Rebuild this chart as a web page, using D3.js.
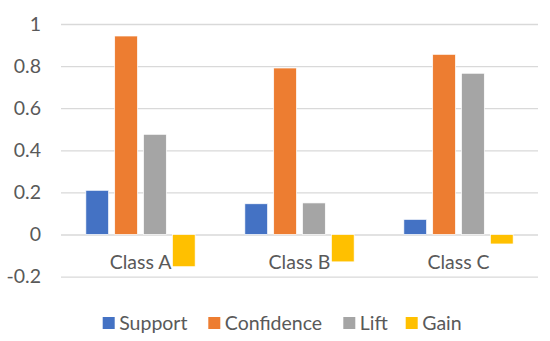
<!DOCTYPE html>
<html>
<head>
<meta charset="utf-8">
<script src="https://cdn.jsdelivr.net/npm/d3@7"></script>
<style>
  body { margin: 0; background: #fff; }
  svg { display: block; }
  text { font-family: Lato, "Open Sans", sans-serif; fill: #595959; }
</style>
</head>
<body>
<svg id="chart" width="550" height="341"></svg>
<script>
const classes = ["Class A", "Class B", "Class C"];
const seriesNames = ["Support", "Confidence", "Lift", "Gain"];
const colors = ["#4472C4", "#ED7D31", "#A5A5A5", "#FFC000"];

const support = [0.21, 0.146, 0.072];
const confidence = [0.943, 0.791, 0.856];
const lift = [0.476, 0.15, 0.766];
const gain = [-0.153, -0.13, -0.045];

const yTicks = [-0.2, 0, 0.2, 0.4, 0.6, 0.8, 1];

const values = [support, confidence, lift, gain];

const plot_left = 61;
const plot_right = 538;
const plot_top = 24;
const plot_bottom = 276.6;
const font_size = 19.5;

const svg = d3.select("#chart");

const y = d3.scaleLinear()
    .domain([-0.2, 1])
    .range([plot_bottom, plot_top]);

const x0 = d3.scaleBand()
    .domain(classes)
    .range([plot_left, plot_right])
    .paddingInner(0.3125)
    .paddingOuter(0.15625);

const x1 = d3.scaleBand()
    .domain(seriesNames)
    .range([0, x0.bandwidth()])
    .paddingInner(0.21);

// gridlines + y labels
const yAxis = svg.append("g")
    .attr("transform", "translate(" + plot_left + ",0)")
    .call(d3.axisLeft(y)
        .tickValues(yTicks)
        .tickSize(-(plot_right - plot_left))
        .tickPadding(20)
        .tickFormat(d => String(+d.toFixed(1))));

yAxis.select(".domain").remove();
yAxis.selectAll(".tick line")
    .attr("stroke", "#D9D9D9")
    .attr("stroke-width", 1.3);
yAxis.selectAll(".tick text")
    .style("font-size", font_size + "px")
    .style("font-family", "Lato, 'Open Sans', sans-serif")
    .attr("fill", "#595959");

// bars
const groups = svg.append("g")
    .selectAll("g")
    .data(classes)
    .join("g")
    .attr("transform", d => "translate(" + x0(d) + ",0)");

groups.selectAll("rect")
    .data((d, i) => seriesNames.map((s, j) => ({ name: s, val: values[j][i], color: colors[j] })))
    .join("rect")
    .attr("x", d => x1(d.name))
    .attr("width", x1.bandwidth())
    .attr("y", d => y(Math.max(0, d.val)))
    .attr("height", d => Math.abs(y(d.val) - y(0)))
    .attr("fill", d => d.color)
    .attr("stroke", "#fff")
    .attr("stroke-width", 0.7);

// category labels
svg.append("g")
    .selectAll("text")
    .data(classes)
    .join("text")
    .attr("x", d => x0(d) + x0.bandwidth() / 2)
    .attr("y", y(0) + 34.5)
    .attr("text-anchor", "middle")
    .style("font-size", font_size + "px")
    .text(d => d);

// legend
const legend = svg.append("g").attr("transform", "translate(0,323)");
const legendStarts = [102.7, 208.3, 343.3, 405.7];

const items = legend.selectAll("g")
    .data(seriesNames)
    .join("g")
    .attr("transform", (d, i) => "translate(" + legendStarts[i] + ",0)");

items.append("rect")
    .attr("x", 0)
    .attr("y", -6)
    .attr("width", 12)
    .attr("height", 12)
    .attr("fill", (d, i) => colors[i]);

items.append("text")
    .attr("x", 16.5)
    .attr("y", 6.5)
    .style("font-size", font_size + "px")
    .text(d => d);
</script>
</body>
</html>
